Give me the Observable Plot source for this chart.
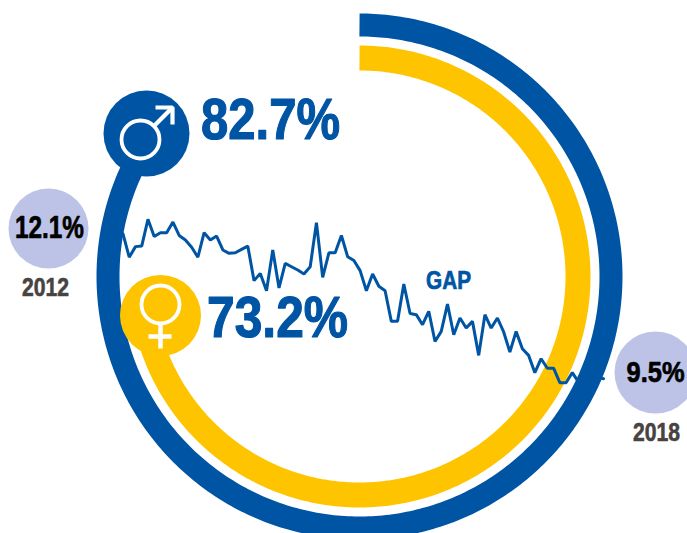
<!DOCTYPE html>
<html>
<head>
<meta charset="utf-8">
<script src="https://cdn.jsdelivr.net/npm/d3@7"></script>
<script src="https://cdn.jsdelivr.net/npm/@observablehq/plot@0.6"></script>
<style>
  html, body { margin: 0; padding: 0; background: #fff; }
  #chart { position: relative; width: 687px; height: 533px; overflow: hidden; }
  #chart svg { position: absolute; left: 0; top: 0; background: transparent; }
</style>
</head>
<body>
<div id="chart"></div>
<script>
const malePercent = 82.7;
const femalePercent = 73.2;
const startYear = "2012";
const endYear = "2018";
const startGap = 12.1;
const endGap = 9.5;
const gapValues = [
  12.10, 11.68, 11.87, 11.88, 12.36, 12.05, 12.12, 12.12, 12.31, 12.07,
  11.99, 11.86, 11.68, 12.12, 11.99, 12.06, 11.81, 11.75, 11.76, 11.82,
  11.88, 11.26, 11.39, 11.08, 11.81, 11.13, 11.57, 11.51, 11.45, 11.38,
  11.51, 12.30, 11.32, 11.76, 11.76, 12.07, 11.69, 11.62, 11.44, 11.08,
  11.38, 11.16, 11.08, 10.53, 10.53, 11.20, 10.67, 10.65, 10.47, 10.71,
  10.17, 10.35, 10.84, 10.29, 10.59, 10.41, 10.53, 9.92, 10.65, 10.41,
  10.59, 10.34, 9.98, 10.35, 10.04, 9.92, 9.61, 9.86, 9.69, 9.69,
  9.43, 9.43, 9.61, 9.44, 9.50, 9.56, 9.53, 9.50
];

const BLUE = "#0054a4", GOLD = "#ffc400", LAV = "#bcc3e6", INK = "#000", GREY = "#474342";
const SANS = "'Liberation Sans', sans-serif";
const CX = 359, CY = 276;

// A ring is the share of a full turn, clockwise from the top.
function ringPoints(percent, radius) {
  const end = percent / 100 * 2 * Math.PI;
  return d3.range(0, 361).map(i => {
    const a = end * i / 360;
    return {x: CX + radius * Math.sin(a), y: CY - radius * Math.cos(a)};
  });
}
const line = (pts, w) => Plot.line(pts, {x: "x", y: "y", stroke: "#fff", strokeWidth: w, curve: "linear", strokeLinecap: "butt", strokeLinejoin: "miter"});
const label = (text, x, y, size, fill, weight) =>
  Plot.text([text], {x: () => x, y: () => y, text: d => d, fontSize: size, fontWeight: 700, fontFamily: SANS, fill, stroke: fill, strokeWidth: weight, textAnchor: "middle", lineAnchor: "middle"});

// Condensed type: each label is squeezed to the width it has in the chart.
const labelWidths = new Map([
  [malePercent + "%", 139], [femalePercent + "%", 141], ["GAP", 45],
  [startGap + "%", 69], [endGap + "%", 58], [startYear, 47], [endYear, 47]
]);

const rings = Plot.plot({
  width: 687, height: 533, margin: 0,
  style: {background: "transparent"},
  x: {domain: [0, 687], range: [0, 687], axis: null},
  y: {domain: [0, 533], range: [0, 533], axis: null},
  marks: [
    Plot.line(ringPoints(malePercent, 251.5), {x: "x", y: "y", stroke: BLUE, strokeWidth: 23, curve: "linear", strokeLinecap: "butt"}),
    Plot.line(ringPoints(femalePercent, 218.5), {x: "x", y: "y", stroke: GOLD, strokeWidth: 25, curve: "linear", strokeLinecap: "butt"}),
    Plot.dot([0], {x: () => 146, y: () => 133, r: 43, fill: BLUE}),
    Plot.dot([0], {x: () => 160, y: () => 315, r: 40.5, fill: GOLD}),
    // male symbol
    Plot.dot([0], {x: () => 140, y: () => 139, r: 19, fill: "none", stroke: "#fff", strokeWidth: 3.8}),
    line([{x: 154, y: 125}, {x: 171, y: 108}], 4.2),
    line([{x: 155, y: 107}, {x: 172, y: 107}, {x: 172, y: 124}], 4.2),
    // female symbol
    Plot.dot([0], {x: () => 160, y: () => 304, r: 19, fill: "none", stroke: "#fff", strokeWidth: 3.8}),
    line([{x: 160, y: 324}, {x: 160, y: 348}], 4.5),
    line([{x: 148, y: 336}, {x: 171, y: 336}], 4.5),
    // bubbles
    Plot.dot([0], {x: () => 48, y: () => 228, r: 40, fill: LAV}),
    Plot.dot([0], {x: () => 655, y: () => 372, r: 41, fill: LAV}),
    label(malePercent + "%", 270, 120, 58, BLUE, 1.2),
    label(femalePercent + "%", 277, 317.5, 58, BLUE, 1.2),
    label("GAP", 448, 280, 25, BLUE, 0.7),
    label(startGap + "%", 49, 227.5, 31, INK, 0.7),
    label(endGap + "%", 655, 372, 30, INK, 0.7),
    label(startYear, 45, 287.5, 25, GREY, 0.6),
    label(endYear, 656, 432.5, 25, GREY, 0.6)
  ]
});

const gap = Plot.plot({
  width: 687, height: 533, margin: 0,
  style: {background: "transparent"},
  x: {domain: [0, gapValues.length - 1], range: [122.5, 603], axis: null},
  y: {domain: [startGap, endGap], range: [233.3, 378.3], axis: null},
  marks: [
    Plot.line(gapValues, {x: (d, i) => i, y: d => d, stroke: BLUE, strokeWidth: 3, curve: "linear", strokeLinejoin: "miter"})
  ]
});

document.getElementById("chart").append(rings, gap);

rings.querySelectorAll("text").forEach(t => {
  const w = labelWidths.get(t.textContent);
  if (w) t.setAttribute("transform", `${t.getAttribute("transform") || ""} scale(${w / t.getComputedTextLength()},1)`);
});
</script>
</body>
</html>
